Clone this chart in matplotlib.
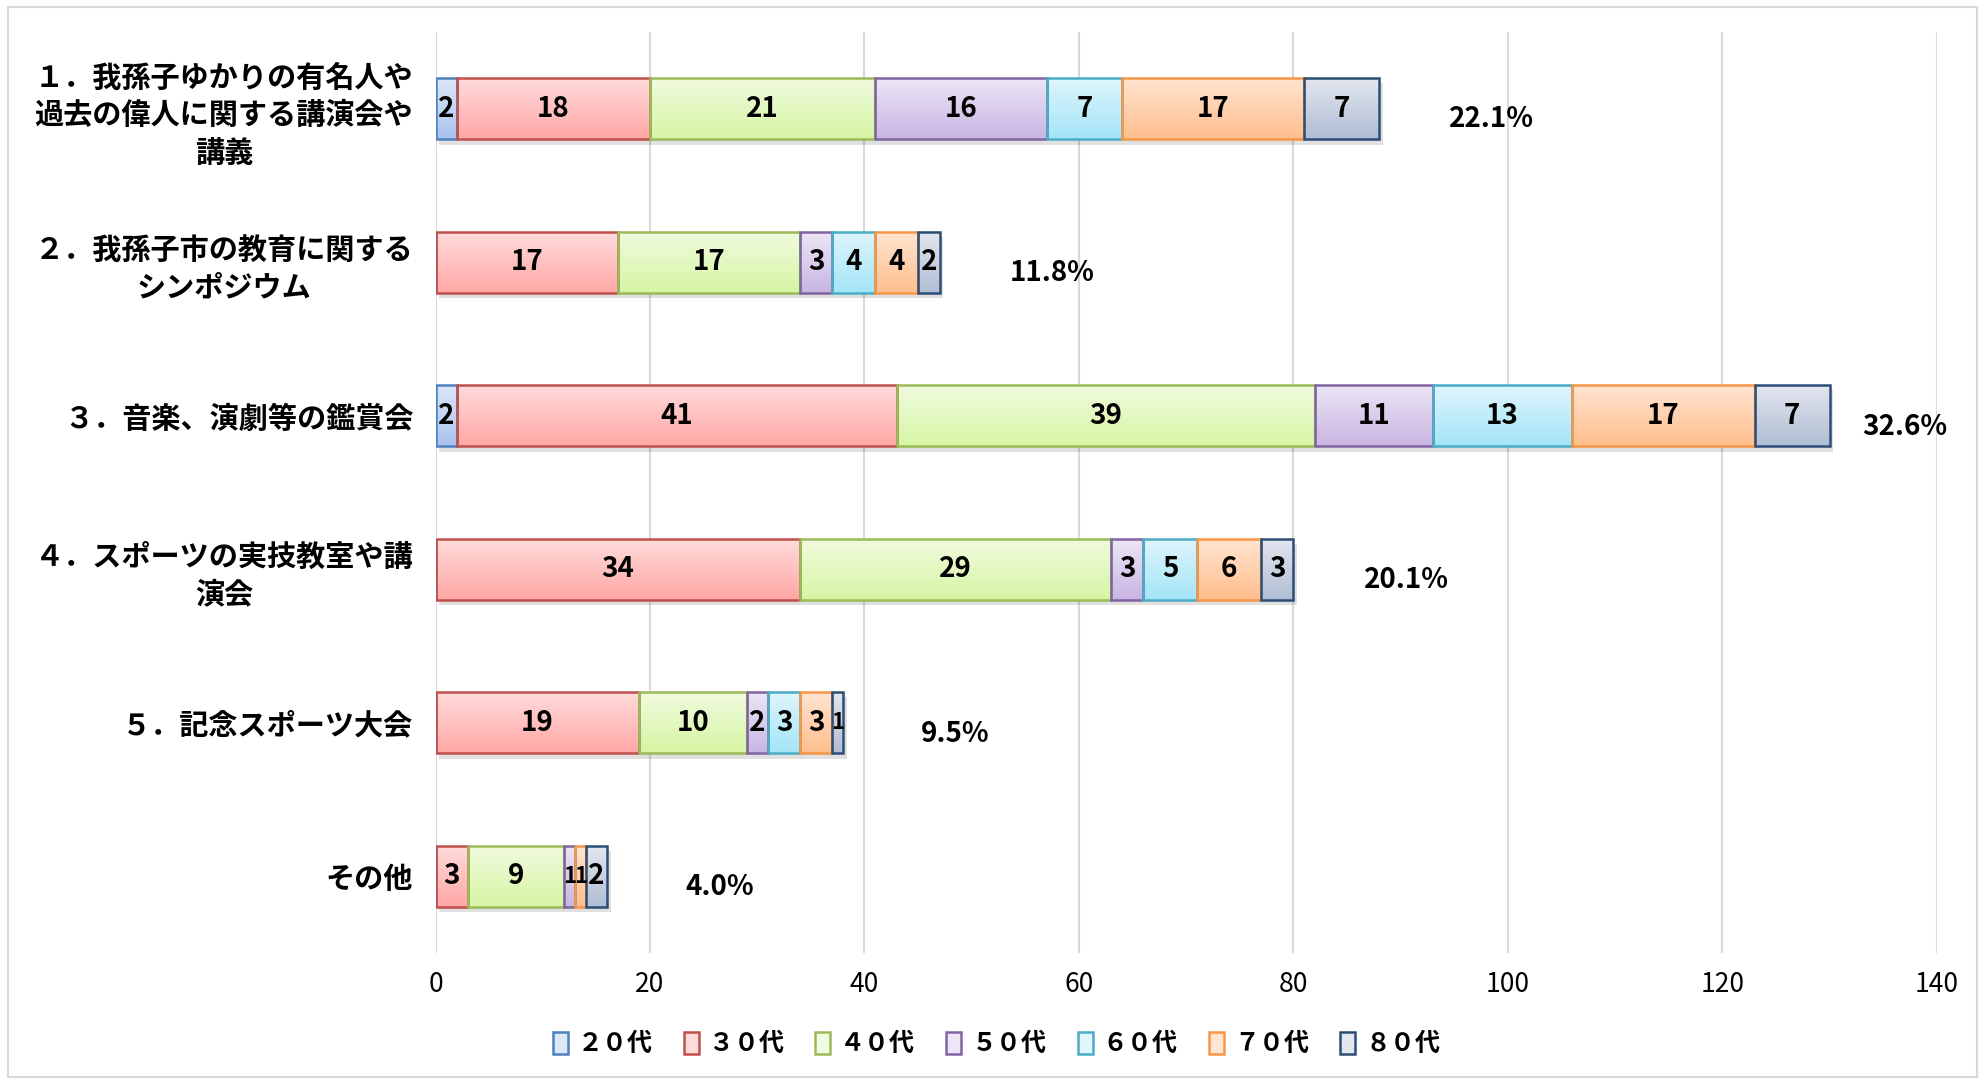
import matplotlib
matplotlib.use("Agg")
import matplotlib.pyplot as plt
import numpy as np
from matplotlib.colors import LinearSegmentedColormap
from matplotlib.patches import Rectangle
from matplotlib import font_manager

categories = [
    "１．我孫子ゆかりの有名人や\n過去の偉人に関する講演会や\n講義",
    "２．我孫子市の教育に関する\nシンポジウム",
    "３．音楽、演劇等の鑑賞会",
    "４．スポーツの実技教室や講\n演会",
    "５．記念スポーツ大会",
    "その他",
]
series_names = ["２０代", "３０代", "４０代", "５０代", "６０代", "７０代", "８０代"]
age20 = [2, 0, 2, 0, 0, 0]
age30 = [18, 17, 41, 34, 19, 3]
age40 = [21, 17, 39, 29, 10, 9]
age50 = [16, 3, 11, 3, 2, 1]
age60 = [7, 4, 13, 5, 3, 0]
age70 = [17, 4, 17, 6, 3, 1]
age80 = [7, 2, 7, 3, 1, 2]
percent_labels = ["22.1%", "11.8%", "32.6%", "20.1%", "9.5%", "4.0%"]
xticks = [0, 20, 40, 60, 80, 100, 120, 140]

series = [age20, age30, age40, age50, age60, age70, age80]
edge_colors = ["#4F81BD", "#C0504D", "#9BBB59", "#8064A2", "#4BACC6", "#F79646", "#2C4D75"]
top_colors = ["#DCE7F8", "#FFDCDC", "#F1FBDF", "#EDE6F6", "#E0F5FC", "#FFE5D2", "#E3E7EF"]
bot_colors = ["#A9C3EF", "#FFA7A5", "#D6F5A3", "#C9B5E2", "#A3E5F8", "#FFBE8C", "#B0BDD4"]

avail = {f.name for f in font_manager.fontManager.ttflist}
num_family = ["Liberation Sans Narrow", "Noto Sans CJK JP"] if "Liberation Sans Narrow" in avail else ["Noto Sans CJK JP"]
plt.rcParams['font.family'] = ['Noto Sans CJK JP', 'DejaVu Sans']

fig = plt.figure(figsize=(19.85, 10.84), dpi=100)
fig.patches.append(Rectangle((0.004, 0.006), 0.992, 0.988, transform=fig.transFigure,
                             fill=False, edgecolor="#D9D9D9", linewidth=1.5))
ax = fig.add_axes([0.2194, 0.1208, 0.7564, 0.8497])

n = len(categories)
ypos = np.arange(n)[::-1].astype(float)
bar_h = 0.4
left = np.zeros(n)
grad = np.linspace(1, 0, 256).reshape(-1, 1)

for si, vals in enumerate(series):
    vals = np.array(vals, dtype=float)
    cmap = LinearSegmentedColormap.from_list("g%d" % si, [bot_colors[si], top_colors[si]])
    bars = ax.barh(ypos, vals, left=left, height=bar_h, facecolor="none",
                   edgecolor=edge_colors[si], linewidth=1.8, zorder=3,
                   label=series_names[si])
    for b, v in zip(bars, vals):
        if v <= 0:
            continue
        x0, y0, w, h = b.get_x(), b.get_y(), b.get_width(), b.get_height()
        ax.add_patch(Rectangle((x0 + 0.35, y0 - 0.035), w, h, facecolor="#000000",
                               alpha=0.12, edgecolor="none", zorder=1.5))
        im = ax.imshow(grad[::-1], extent=[x0, x0 + w, y0, y0 + h], origin="lower",
                       cmap=cmap, aspect="auto", zorder=2.5, interpolation="bicubic")
        im.set_clip_path(b)
        fs = 20 if w > 1 else 16
        ax.text(x0 + w / 2, y0 + h / 2, "%d" % v, ha="center", va="center",
                fontsize=fs, fontweight="bold", family=num_family, zorder=4)
    left += vals

for i in range(n):
    xp = min(left[i] + 10.5, 137.0)
    ax.text(xp, ypos[i] - 0.07, percent_labels[i], ha="center", va="center",
            fontsize=20, fontweight="bold", family=num_family)

ax.set_xlim(0, 140)
ax.set_ylim(-0.5, n - 0.5)
ax.set_xticks(xticks)
ax.set_xticklabels([str(t) for t in xticks], fontsize=19, family=num_family)
ax.set_yticks(ypos)
ax.set_yticklabels(categories, fontsize=21, fontweight="bold")
for lab in ax.get_yticklabels():
    lab.set_multialignment("center")
    lab.set_linespacing(1.3)
ax.tick_params(axis="both", length=0)
ax.tick_params(axis="x", pad=13)
ax.tick_params(axis="y", pad=16)
for s in ax.spines.values():
    s.set_visible(False)
ax.grid(axis="x", color="#D9D9D9", linewidth=1.5, zorder=0)
ax.set_axisbelow(True)

handles = [Rectangle((0, 0), 1, 1, facecolor=top_colors[i], edgecolor=edge_colors[i], linewidth=1.8)
           for i in range(len(series_names))]
fig.legend(handles, series_names, loc="center", bbox_to_anchor=(0.502, 0.037), ncol=7,
           frameon=False, handlelength=0.6, handleheight=1.0,
           handletextpad=0.4, columnspacing=1.25,
           prop={"family": ["Noto Sans CJK JP"], "weight": "bold", "size": 18})

fig.savefig("out.png", dpi=100)
